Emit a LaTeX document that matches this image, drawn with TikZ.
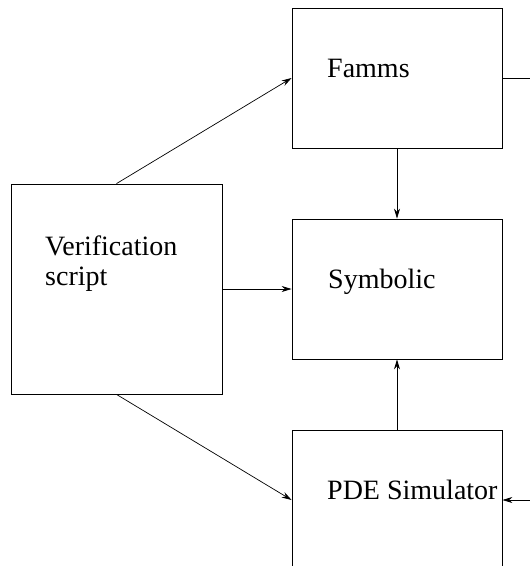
\documentclass[tikz,border=0pt]{standalone}
\usepackage{fontspec}
\setmainfont{Liberation Serif}
\newfontfamily\figfont{Liberation Serif}
\usetikzlibrary{arrows.meta,positioning}
\tikzset{
  block/.style={draw,line width=0.8pt,minimum width=210pt,minimum height=140pt,inner sep=0pt},
  blocktext/.style={anchor=base west,inner sep=0pt,font=\figfont\fontsize{28}{30}\selectfont,align=left},
  arrow/.style={-{Stealth[length=10pt,width=6pt]},line width=0.7pt}
}
\begin{document}
\begin{tikzpicture}[x=1pt,y=-1pt]
  \useasboundingbox (0,0) rectangle (530,566);
  \clip (0,0) rectangle (530,566);

  \node[block,minimum width=211pt,minimum height=210pt] (verif) at (116.5,289) {};
  \node[block] (famms) at (397,78) {};
  \node[block] (symbolic) at (397,289) {};
  \node[block] (pde) at (397,500) {};

  % base of a two-line node is its last line
  \node[blocktext] (veriftext) at (45,285) {Verification\\script};
  \node[blocktext] (fammstext) at (327,77) {Famms};
  \node[blocktext] (symbolictext) at (328,288) {Symbolic};
  \node[blocktext] (pdetext) at (327,499) {PDE Simulator};

  \coordinate (famout) at (540,78);
  \coordinate (pdein) at (540,500);

  \draw[arrow] (verif.north) -- (famms.west);
  \draw[arrow] (verif.east) -- (symbolic.west);
  \draw[arrow] (verif.south) -- (pde.west);
  \draw[arrow] (famms.south) -- (symbolic.north);
  \draw[arrow,line width=0.9pt] (pde.north) -- (symbolic.south);
  \draw[line width=0.8pt] (famms.east) -- (famout);
  \draw[arrow] (pdein) -- (pde.east);
\end{tikzpicture}
\end{document}
